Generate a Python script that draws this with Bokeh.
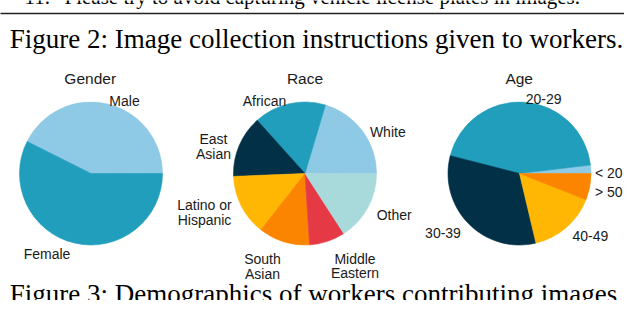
import numpy as np
from bokeh.plotting import figure
from bokeh.models import Range1d, ColumnDataSource
from bokeh.core.properties import value
from bokeh.embed import file_html
from bokeh.resources import INLINE

# ---------------- data ----------------
gender_labels = ["Male", "Female"]
gender_share = [42.6, 57.4]

race_labels = ["White", "African", "East\nAsian", "Latino or\nHispanic",
               "South\nAsian", "Middle\nEastern", "Other"]
race_share = [20.4, 16.3, 14.0, 13.8, 11.6, 8.1, 15.9]

age_labels = ["< 20", "20-29", "30-39", "40-49", "> 50"]
age_share = [1.9, 44.1, 32.7, 15.3, 6.0]

pie_titles = ["Gender", "Race", "Age"]

caption_top = "Figure 2: Image collection instructions given to workers."
caption_bottom = "Figure 3: Demographics of workers contributing images."
box_item_num = "11."
box_item_text = "Please try to avoid capturing vehicle license plates in images."

# ---------------- styles / layout ----------------
LIGHT_BLUE = "#8ECAE6"
TEAL = "#219EBC"
NAVY = "#023047"
AMBER = "#FFB703"
ORANGE = "#FB8500"
RED = "#E63946"
AQUA = "#A8DADC"

gender_colors = [LIGHT_BLUE, TEAL]
race_colors = [LIGHT_BLUE, TEAL, NAVY, AMBER, ORANGE, RED, AQUA]
age_colors = [LIGHT_BLUE, TEAL, NAVY, AMBER, ORANGE]

H = 316  # reference height; data y = H - pixel y (page pixels)


def Y(py):
    return H - py


R = 71.5
centers = [(98.5, 181), (312.5, 181), (527, 181)]
title_pos = [(97.7, 86), (312.5, 86), (526.7, 86)]
gender_lpos = [(132, 108.5, "center"), (54.5, 261, "center")]
race_lpos = [(395.3, 139, "center"), (272, 108.5, "center"), (221, 146.7, "center"),
             (212, 212.7, "center"), (270, 266.7, "center"), (362.5, 266, "center"),
             (401.7, 222, "center")]
age_lpos = [(602.5, 180, "left"), (551.2, 106.7, "center"), (450.5, 240, "center"),
            (597.8, 243, "center"), (602.5, 199, "left")]
LINE_STEP = 14.6

SANS = value("Liberation Sans")
SERIF = value("Liberation Serif")

p = figure(width=624, height=300, x_range=Range1d(8, 632), y_range=Range1d(8, 308),
           output_backend="svg", toolbar_location=None,
           x_axis_type=None, y_axis_type=None, min_border=0)
p.xgrid.visible = False
p.ygrid.visible = False
p.outline_line_color = None
p.background_fill_color = "white"
p.border_fill_color = "white"

pies = [
    (gender_labels, gender_share, gender_colors, gender_lpos),
    (race_labels, race_share, race_colors, race_lpos),
    (age_labels, age_share, age_colors, age_lpos),
]

for (labels, share, colors, lpos), (cx, cy), title, (tx, ty) in zip(pies, centers, pie_titles, title_pos):
    frac = np.array(share, dtype=float) / np.sum(share)
    ends = np.cumsum(frac) * 2 * np.pi
    starts = np.concatenate([[0.0], ends[:-1]])
    src = ColumnDataSource(dict(start=starts, end=ends, color=colors, label=labels))
    p.wedge(x=cx, y=Y(cy), radius=R, start_angle="start", end_angle="end",
            fill_color="color", line_color="color", line_width=0.6, source=src)
    p.text(x=[tx], y=[Y(ty)], text=[title], text_align="center", text_baseline="alphabetic",
           text_font=SANS, text_font_size="15.5px", text_color="#1a1a1a")
    xs, ys, ts, al = [], [], [], []
    for lab, (lx, ly, a) in zip(labels, lpos):
        for i, line in enumerate(lab.split("\n")):
            xs.append(lx)
            ys.append(Y(ly + i * LINE_STEP))
            ts.append(line)
            al.append(a)
    lsrc = ColumnDataSource(dict(x=xs, y=ys, t=ts, a=al))
    p.text(x="x", y="y", text="t", text_align="a", text_baseline="alphabetic",
           text_font=SANS, text_font_size="14px", text_color="#1a1a1a", source=lsrc)

# box of the previous figure (its lower part is all that is in view)
p.quad(left=[2.5], right=[637.5], bottom=[Y(21)], top=[Y(-20)], fill_color=None,
       line_color="#222222", line_width=1.3)
p.text(x=[32], y=[Y(4)], text=[box_item_num], text_baseline="alphabetic",
       text_font=SERIF, text_font_size="21px", text_color="black")
p.text(x=[72], y=[Y(4)], text=[box_item_text], text_baseline="alphabetic",
       text_font=SERIF, text_font_size="21px", text_color="black")

# captions
p.text(x=[17.3], y=[Y(46.7)], text=[caption_top], text_baseline="alphabetic",
       text_font=SERIF, text_font_size="27px", text_color="black")
p.text(x=[17.3], y=[Y(301.5)], text=[caption_bottom], text_baseline="alphabetic",
       text_font=SERIF, text_font_size="27px", text_color="black")

open("out.html", "w").write(file_html(p, INLINE))
